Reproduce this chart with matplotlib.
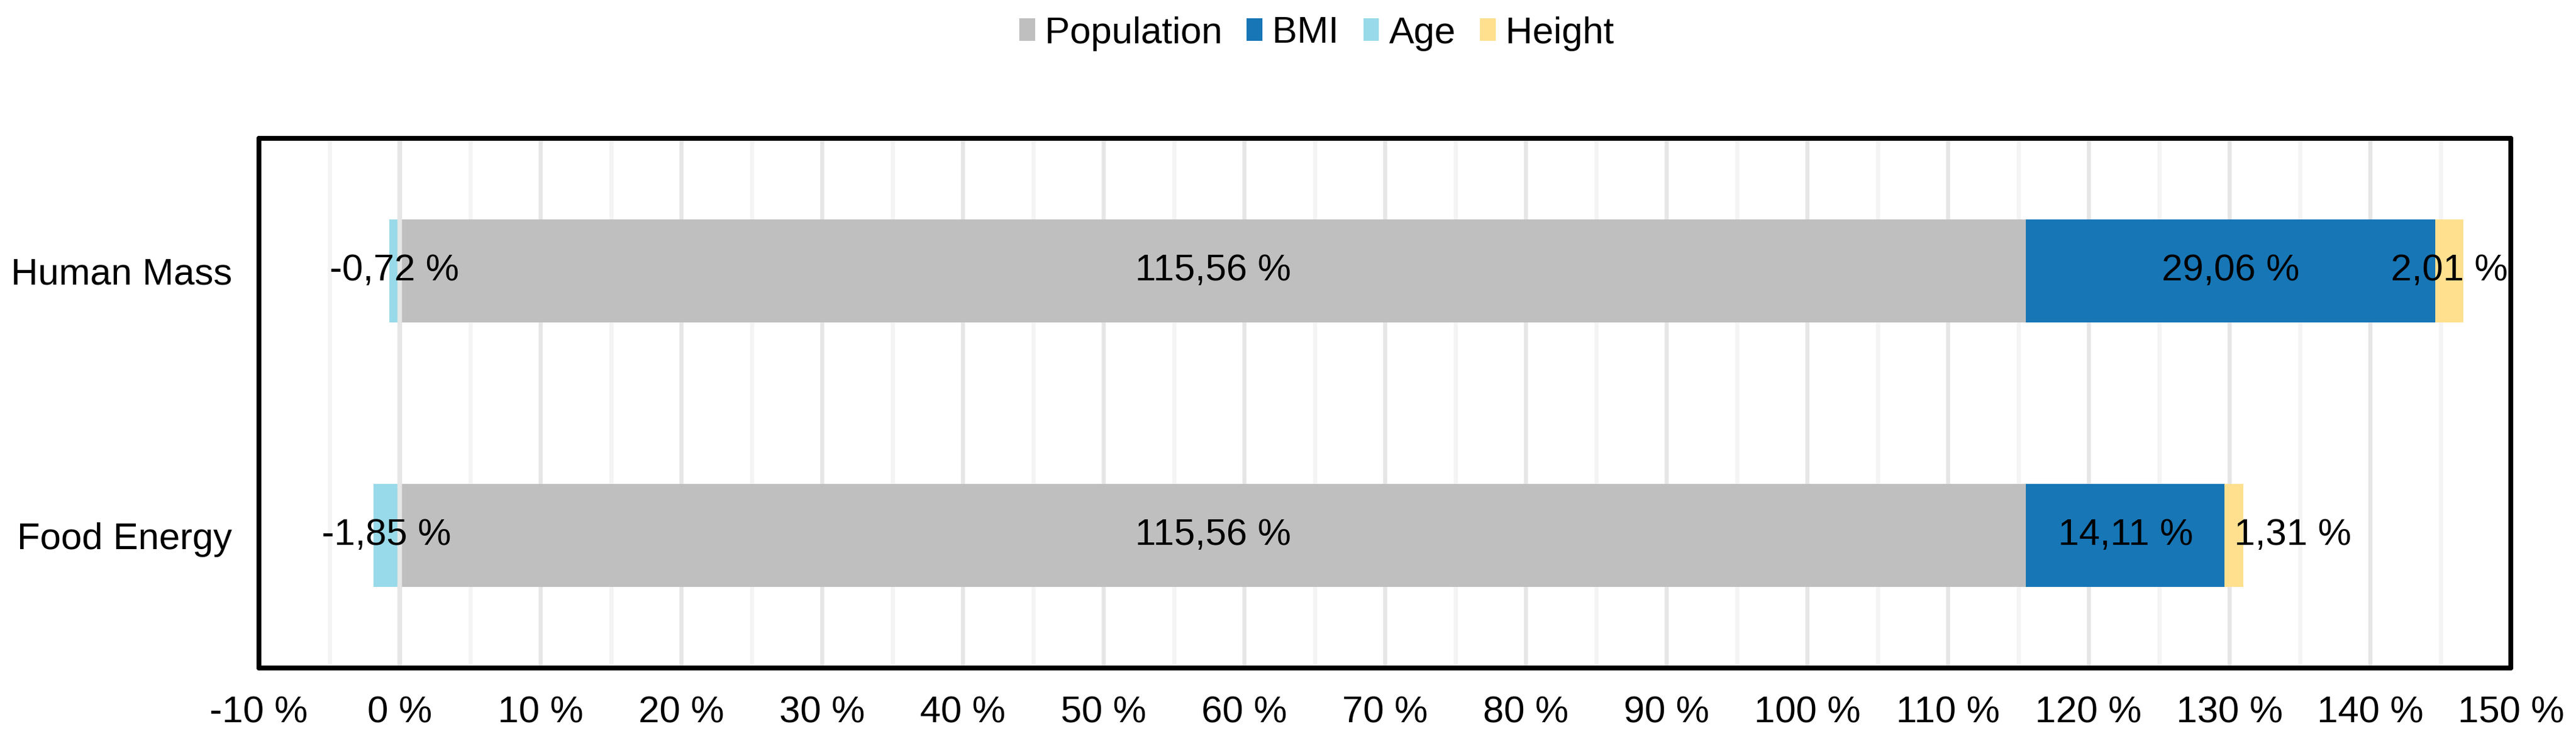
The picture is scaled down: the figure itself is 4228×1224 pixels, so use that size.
import matplotlib
matplotlib.use("Agg")
import matplotlib.pyplot as plt
from matplotlib.patches import Patch
from matplotlib.ticker import FixedLocator, MultipleLocator

plt.rcParams['font.family'] = ['Liberation Sans', 'DejaVu Sans']

categories = ["Human Mass", "Food Energy"]
series_names = ["Population", "BMI", "Age", "Height"]
population = [115.56, 115.56]
bmi = [29.06, 14.11]
age = [-0.72, -1.85]
height = [2.01, 1.31]
x_ticks = list(range(-10, 151, 10))
x_tick_labels = [f"{v} %" for v in x_ticks]

colors = {"Population": "#bfbfbf", "BMI": "#1776b6", "Age": "#98dae9", "Height": "#fee08f"}

fig = plt.figure(figsize=(4228 / 300, 1224 / 300), dpi=300)
ax = fig.add_axes([425 / 4228, 1 - 1096 / 1224, (4121 - 425) / 4228, (1096 - 227) / 1224])

ypos = list(range(len(categories)))
bh = 0.39
fs = 14.8

def fmt(v):
    return f"{v:.2f}".replace(".", ",") + " %"

left_pop = [0.0] * len(categories)
left_bmi = [p for p in population]
left_h = [p + b for p, b in zip(population, bmi)]

ax.barh(ypos, population, left=left_pop, height=bh, color=colors["Population"], zorder=2)
ax.barh(ypos, bmi, left=left_bmi, height=bh, color=colors["BMI"], zorder=2)
ax.barh(ypos, height, left=left_h, height=bh, color=colors["Height"], zorder=2)
ax.barh(ypos, age, left=[0.0] * len(categories), height=bh, color=colors["Age"], zorder=2)

for i in ypos:
    ax.text(population[i] / 2, i, fmt(population[i]), ha="center", va="center", fontsize=fs, zorder=5)
    ax.text(left_bmi[i] + bmi[i] / 2, i, fmt(bmi[i]), ha="center", va="center", fontsize=fs, zorder=5)
    ax.text(age[i] / 2, i, fmt(age[i]), ha="center", va="center", fontsize=fs, zorder=5)
    ha = "center" if i == 0 else "left"
    ax.text(left_h[i] + height[i] / 2, i, fmt(height[i]), ha=ha, va="center", fontsize=fs, zorder=5)

ax.set_xlim(-10, 150)
ax.set_ylim(len(categories) - 0.5, -0.5)
ax.xaxis.set_major_locator(FixedLocator(x_ticks))
ax.set_xticklabels(x_tick_labels)
ax.xaxis.set_minor_locator(MultipleLocator(5))
ax.set_yticks(ypos)
ax.set_yticklabels(categories)
ax.tick_params(axis="both", which="both", length=0, labelsize=fs)
ax.tick_params(axis="x", pad=11)
ax.tick_params(axis="y", pad=10.5)

ax.grid(axis="x", which="major", color="#e6e6e6", linewidth=1.6, zorder=0)
ax.grid(axis="x", which="minor", color="#f4f4f4", linewidth=1.6, zorder=0)
ax.grid(axis="y", visible=False)
ax.set_axisbelow(True)
ax.axvline(0, color="#e6e6e6", linewidth=1.8, zorder=3)

for s in ax.spines.values():
    s.set_linewidth(1.9)
    s.set_color("black")
    s.set_capstyle("round")
    s.set_zorder(4)

handles = [Patch(facecolor=colors[n], edgecolor="none", label=n) for n in series_names]
fig.legend(handles=handles, loc="center", bbox_to_anchor=(2161 / 4228, 1 - 55 / 1224), ncol=4,
           frameon=False, fontsize=fs, handlelength=0.42, handleheight=0.55, handletextpad=0.26,
           columnspacing=0.65, borderpad=0)

fig.savefig("out.png", dpi=300)
